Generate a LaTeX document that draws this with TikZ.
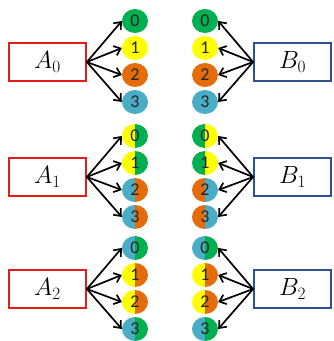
\documentclass[tikz,border=0pt]{standalone}
\usepackage{fontspec}
\newfontfamily\digitfont{Carlito}
\usetikzlibrary{arrows.meta,shapes.geometric}
\definecolor{cg}{RGB}{0,176,80}
\definecolor{cy}{RGB}{255,255,0}
\definecolor{co}{RGB}{228,108,10}
\definecolor{cb}{RGB}{75,172,198}
\definecolor{redline}{RGB}{228,28,28}
\definecolor{blueline}{RGB}{47,82,143}
\tikzset{
  dot/.style={ellipse, minimum width=26pt, minimum height=24pt, inner sep=0pt,
    font=\digitfont\fontsize{18}{18}\selectfont, text=black!85},
  full/.style={dot, fill=#1},
  half/.style 2 args={dot, path picture={
      \fill[#1] (path picture bounding box.south west) rectangle (path picture bounding box.north);
      \fill[#2] (path picture bounding box.south) rectangle (path picture bounding box.north east);}},
  abox/.style={draw=redline, line width=1.8pt, minimum width=77pt, minimum height=38pt,
    inner sep=0pt, font=\fontsize{26}{26}\selectfont},
  bbox/.style={abox, draw=blueline},
  arr/.style={-{Straight Barb[length=6pt,width=10pt]}, line width=1.7pt, black}
}
\begin{document}
\begin{tikzpicture}[x=1pt,y=-1pt]
\useasboundingbox (0,0) rectangle (334,341);
% row 0
\node[abox] (A0) at (47.5,62) {$A_0$};
\node[bbox] (B0) at (292.5,62) {$B_0$};
\node[full=cg] (a00) at (135,21) {0};
\node[full=cy] (a01) at (135,48) {1};
\node[full=co] (a02) at (135,75) {2};
\node[full=cb] (a03) at (135,102) {3};
\node[full=cg] (b00) at (205,21) {0};
\node[full=cy] (b01) at (205,48) {1};
\node[full=co] (b02) at (205,75) {2};
\node[full=cb] (b03) at (205,102) {3};
% row 1
\node[abox] (A1) at (47.5,177) {$A_1$};
\node[bbox] (B1) at (292.5,177) {$B_1$};
\node[half={cy}{cg}] (a10) at (135,136) {0};
\node[half={cy}{cg}] (a11) at (135,163) {1};
\node[half={cb}{co}] (a12) at (135,190) {2};
\node[half={cb}{co}] (a13) at (135,217) {3};
\node[half={cg}{cy}] (b10) at (205,136) {0};
\node[half={cg}{cy}] (b11) at (205,163) {1};
\node[half={co}{cb}] (b12) at (205,190) {2};
\node[half={co}{cb}] (b13) at (205,217) {3};
% row 2
\node[abox] (A2) at (47.5,289) {$A_2$};
\node[bbox] (B2) at (292.5,289) {$B_2$};
\node[half={cb}{cg}] (a20) at (135,248) {0};
\node[half={cy}{co}] (a21) at (135,275) {1};
\node[half={cy}{co}] (a22) at (135,302) {2};
\node[half={cb}{cg}] (a23) at (135,329) {3};
\node[half={cb}{cg}] (b20) at (205,248) {0};
\node[half={cy}{co}] (b21) at (205,275) {1};
\node[half={cy}{co}] (b22) at (205,302) {2};
\node[half={cb}{cg}] (b23) at (205,329) {3};
% arrows
\foreach \r in {0,1,2}{
  \foreach \i in {0,1,2,3}{
    \draw[arr] (A\r.east) -- (a\r\i.west);
    \draw[arr] (B\r.west) -- (b\r\i.east);
  }
}
\end{tikzpicture}
\end{document}
